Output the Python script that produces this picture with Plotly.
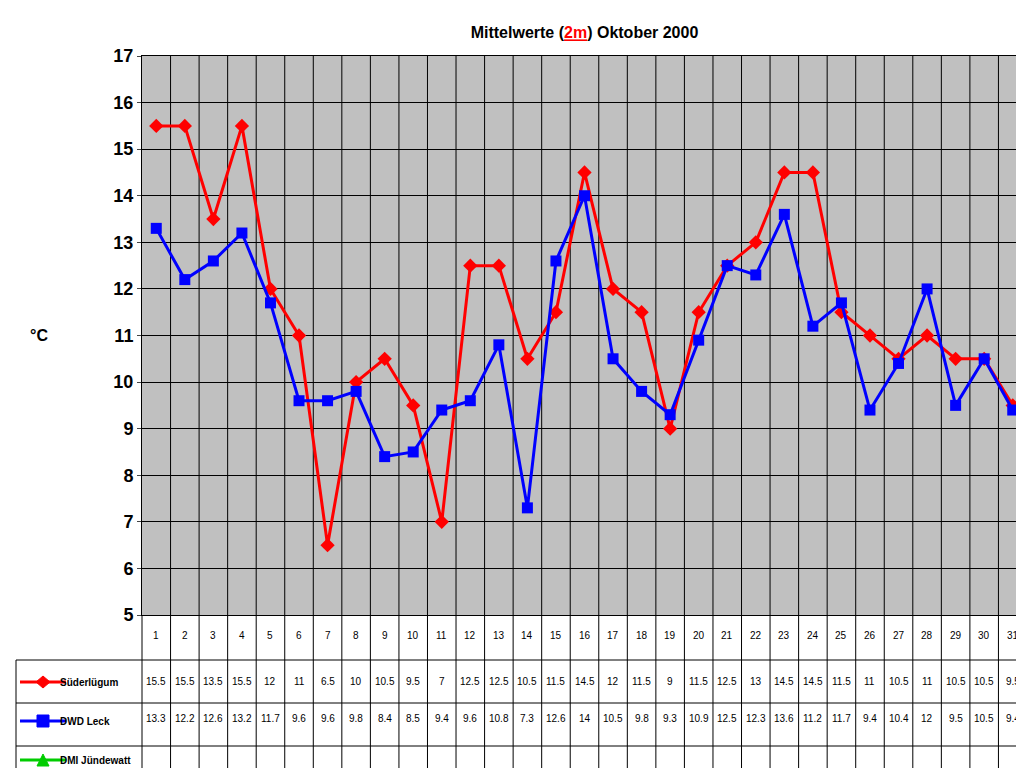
import plotly.graph_objects as go

days = list(range(1, 32))
suederluegum = [15.5, 15.5, 13.5, 15.5, 12, 11, 6.5, 10, 10.5, 9.5, 7, 12.5, 12.5, 10.5, 11.5, 14.5,
                12, 11.5, 9, 11.5, 12.5, 13, 14.5, 14.5, 11.5, 11, 10.5, 11, 10.5, 10.5, 9.5]
dwd_leck = [13.3, 12.2, 12.6, 13.2, 11.7, 9.6, 9.6, 9.8, 8.4, 8.5, 9.4, 9.6, 10.8, 7.3, 12.6, 14,
            10.5, 9.8, 9.3, 10.9, 12.5, 12.3, 13.6, 11.2, 11.7, 9.4, 10.4, 12, 9.5, 10.5, 9.4]
series_names = ["Süderlügum", "DWD Leck", "DMI Jündewatt"]

FONT = "Arial, Liberation Sans, sans-serif"
L, R, T, B = 134, 5, 48, 161
PW, PH = 1024 - L - R, 768 - T - B

def px_x(px):
    return (px - L) / PW

def px_y(py):
    return (768 - B - py) / PH

fig = go.Figure()
fig.add_trace(go.Scatter(x=days, y=suederluegum, mode="lines+markers", name=series_names[0],
                         line=dict(color="#FF0000", width=3),
                         marker=dict(symbol="diamond", size=11, color="#FF0000")))
fig.add_trace(go.Scatter(x=days, y=dwd_leck, mode="lines+markers", name=series_names[1],
                         line=dict(color="#0000FF", width=3),
                         marker=dict(symbol="square", size=11, color="#0000FF")))

shapes = []
ann = []
row_lines = [652, 695, 738, 762]
for py in row_lines:
    shapes.append(dict(type="line", xref="paper", yref="paper", x0=px_x(8), x1=px_x(1019),
                       y0=px_y(py), y1=px_y(py), line=dict(color="black", width=1)))
shapes.append(dict(type="line", xref="paper", yref="paper", x0=px_x(8), x1=px_x(8),
                   y0=px_y(652), y1=px_y(762), line=dict(color="black", width=1)))
shapes.append(dict(type="line", xref="paper", yref="paper", x0=0, x1=0,
                   y0=px_y(607), y1=px_y(762), line=dict(color="black", width=1)))
for d in days:
    shapes.append(dict(type="line", xref="x", yref="paper", x0=d + 0.5, x1=d + 0.5,
                       y0=px_y(607), y1=px_y(762), line=dict(color="black", width=1)))
    ann.append(dict(x=d, y=px_y(635), xref="x", yref="paper", text=str(d), showarrow=False,
                    font=dict(size=10, family=FONT, color="black")))
for vals, py in [(suederluegum, 681), (dwd_leck, 718)]:
    for d, v in zip(days, vals):
        ann.append(dict(x=d, y=px_y(py), xref="x", yref="paper", text=f"{v:g}", showarrow=False,
                        font=dict(size=10, family=FONT, color="black")))

# legend keys in the table
keys = [("#FF0000", 674, "M 28 {y} L 35 {y2} L 42 {y} L 35 {y3} Z"),
        ("#0000FF", 713, "M 29 {y3} L 41 {y3} L 41 {y2} L 29 {y2} Z"),
        ("#00CC00", 752, "M 29 {y2} L 41 {y2} L 35 {y3} Z")]
for (color, py, path), name in zip(keys, series_names):
    shapes.append(dict(type="line", xref="paper", yref="paper", x0=px_x(12), x1=px_x(58),
                       y0=px_y(py), y1=px_y(py), line=dict(color=color, width=3)))
    p = path.replace("{y}", str(px_y(py))).replace("{y2}", str(px_y(py + 6))).replace("{y3}", str(px_y(py - 6)))
    p = " ".join(f"{px_x(float(t)):.5f}" if i % 3 == 1 and False else t for i, t in enumerate(p.split()))
    # convert x values to paper coords
    toks = p.split()
    out = []
    i = 0
    while i < len(toks):
        if toks[i] in "MLZ":
            out.append(toks[i])
            if toks[i] != "Z":
                out.append(f"{px_x(float(toks[i+1])):.5f}")
                out.append(toks[i + 2])
                i += 3
                continue
        i += 1
    shapes.append(dict(type="path", xref="paper", yref="paper", path=" ".join(out),
                       fillcolor=color, line=dict(color=color, width=1)))
    ann.append(dict(x=px_x(50), y=px_y(py + 8), xref="paper", yref="paper", text=f"<b>{name}</b>",
                    showarrow=False, xanchor="left", font=dict(size=10, family=FONT, color="black")))

ann.append(dict(x=px_x(20), y=px_y(327), xref="paper", yref="paper", text="<b>°C</b>",
                showarrow=False, font=dict(size=16, family=FONT, color="black")))

fig.update_layout(
    width=1024, height=768, margin=dict(l=L, r=R, t=T, b=B),
    paper_bgcolor="white", plot_bgcolor="#C0C0C0", showlegend=False,
    title=dict(text="<b>Mittelwerte (<span style='color:red;text-decoration:underline'>2m</span>) Oktober 2000</b>",
               x=0.5, xref="paper", y=0.975, font=dict(size=16, family=FONT, color="black")),
    xaxis=dict(range=[0.5, 31.5], showticklabels=False, showgrid=False, zeroline=False,
               showline=True, linecolor="black", mirror=True,
               tickvals=[d + 0.5 for d in days], ticks="", showspikes=False),
    yaxis=dict(range=[5, 17], dtick=1, showgrid=True, gridcolor="black", gridwidth=1,
               zeroline=False, showline=True, linecolor="black", mirror=True, ticks="outside",
               ticklen=4, tickfont=dict(size=18, family=FONT, color="black"), tickprefix="<b>",
               ticksuffix="</b>"),
    shapes=shapes, annotations=ann,
)
# vertical grid lines in plot area
for d in days[:-1]:
    fig.add_shape(type="line", xref="x", yref="paper", x0=d + 0.5, x1=d + 0.5, y0=0, y1=1,
                  line=dict(color="black", width=1), layer="below")

fig.write_html("out.html")
